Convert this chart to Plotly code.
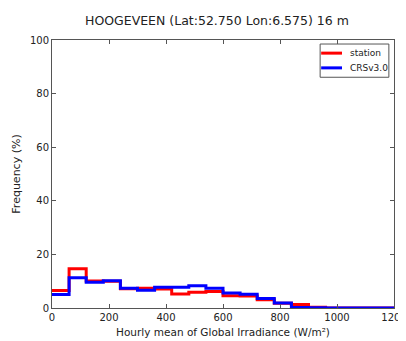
import plotly.graph_objects as go

bin_edges = list(range(0, 1260, 60))
station = [6.5, 14.6, 10.1, 10.0, 7.2, 7.4, 7.1, 5.2, 5.9, 6.2, 4.6, 4.5, 3.1, 1.8, 1.3, 0.3, 0.0, 0.0, 0.0, 0.0]
crs = [5.0, 11.3, 9.6, 10.2, 7.4, 6.6, 7.7, 7.7, 8.3, 7.4, 5.6, 5.1, 3.5, 1.9, 0.2, 0.1, 0.0, 0.0, 0.0, 0.0]
series_names = ["station", "CRSv3.0"]
series_colors = ["#ff0000", "#0000ff"]
x_ticks = [0, 200, 400, 600, 800, 1000, 1200]
y_ticks = [0, 20, 40, 60, 80, 100]

font = "DejaVu Sans"
fig = go.Figure()
for vals, name, color in zip([station, crs], series_names, series_colors):
    fig.add_trace(go.Scatter(x=bin_edges, y=vals + [vals[-1]], mode="lines",
                             line=dict(color=color, width=3, shape="hv"), name=name))

axis_common = dict(showline=True, linecolor="#555", linewidth=1, mirror="ticks",
                   ticks="inside", ticklen=4, tickcolor="#555", showgrid=False, zeroline=False,
                   automargin=False, ticklabeloverflow="allow",
                   tickfont=dict(family=font, size=10, color="#222"))

# compact matplotlib-style legend box (paper coordinates)
shapes = [dict(type="rect", xref="paper", yref="paper", x0=0.784, x1=0.985, y0=0.861, y1=0.985,
               line=dict(color="#555", width=1), fillcolor="white", layer="above")]
annotations = []
for i, (name, color) in enumerate(zip(series_names, series_colors)):
    yy = 0.951 - i * 0.055
    shapes.append(dict(type="line", xref="paper", yref="paper", x0=0.787, x1=0.848, y0=yy, y1=yy,
                       line=dict(color=color, width=3), layer="above"))
    annotations.append(dict(text=name, xref="paper", yref="paper", x=0.865, y=yy,
                            xanchor="left", yanchor="middle", showarrow=False,
                            font=dict(family=font, size=9, color="#222")))

# page body has an 8px margin, so figure is sized/placed to compensate
fig.update_layout(
    width=398, height=333,
    margin=dict(l=44, r=12, t=32, b=33),
    paper_bgcolor="white", plot_bgcolor="white",
    title=dict(text="HOOGEVEEN (Lat:52.750 Lon:6.575) 16 m", x=0.525, xanchor="center",
               y=0.962, yanchor="middle", font=dict(family=font, size=12.5, color="#222")),
    xaxis=dict(range=[0, 1200], tickvals=x_ticks,
               title=dict(text="Hourly mean of Global Irradiance (W/m²)", standoff=6,
                          font=dict(family=font, size=10.5, color="#222")), **axis_common),
    yaxis=dict(range=[0, 100], tickvals=y_ticks,
               title=dict(text="Frequency (%)", standoff=7,
                          font=dict(family=font, size=11, color="#222")), **axis_common),
    shapes=shapes,
    annotations=annotations,
    showlegend=False,
)
fig.write_html("out.html")
